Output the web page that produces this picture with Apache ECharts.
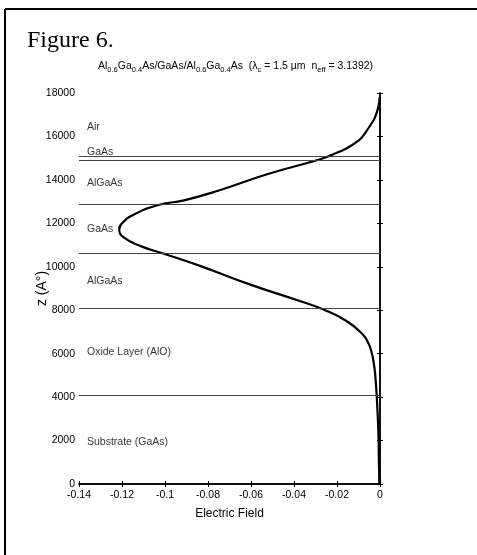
<!DOCTYPE html>
<html>
<head>
<meta charset="utf-8">
<script src="https://cdn.jsdelivr.net/npm/echarts@6/dist/echarts.min.js"></script>
<style>
  html, body { margin: 0; padding: 0; background: #fff; }
  #main { width: 477px; height: 555px; }
</style>
</head>
<body>
<div id="main"></div>
<script>
// 数据：电场分布 (E, z)
const fieldZ = [0, 1000, 2500, 4000, 5000, 5500, 6100, 6500, 6880, 7490, 8030, 8410, 9180, 10030, 10600, 10950, 11340, 11720, 12030, 12410, 12830, 13060, 13490, 14260, 14950, 15180, 15640, 16260, 17340, 17800];
const fieldE = [-0.0003, -0.0005, -0.0008, -0.0015, -0.0022, -0.0028, -0.0040, -0.0055, -0.0080, -0.0154, -0.0263, -0.037, -0.0603, -0.0834, -0.1005, -0.1113, -0.119, -0.1213, -0.1197, -0.1144, -0.1035, -0.0912, -0.0757, -0.0525, -0.0278, -0.0217, -0.0124, -0.0062, -0.0008, -0.0002];

// 层边界
const layerBounds = [4100, 8100, 10600, 12900, 14900, 15100];

// 层名称及位置
const layerNames = ['Air', 'GaAs', 'AlGaAs', 'GaAs', 'AlGaAs', 'Oxide Layer (AlO)', 'Substrate (GaAs)'];
const layerLabelZ = [16430, 15300, 13840, 11720, 9340, 6060, 1950];

const font = '"Liberation Sans Narrow", "Liberation Sans", Arial, sans-serif';

let myChart = echarts.init(document.getElementById('main'));

let option = {
  animation: false,
  backgroundColor: '#fff',
  title: [
    {
      text: 'Figure 6.',
      left: 27, top: 29, padding: 0,
      textStyle: { fontFamily: '"Liberation Serif", "Times New Roman", serif', fontSize: 24, fontWeight: 'normal', color: '#000' }
    },
    {
      text: '{n|Al}{s|0.6}{n|Ga}{s|0.4}{n|As/GaAs/Al}{s|0.6}{n|Ga}{s|0.4}{n|As  (λ}{s|c}{n| = 1.5 µm  n}{s|eff}{n| = 3.1392)}',
      left: 98, top: 58, padding: 0,
      textStyle: {
        rich: {
          n: { fontFamily: font, fontSize: 10.5, color: '#000', lineHeight: 14, fontWeight: 'normal' },
          s: { fontFamily: font, fontSize: 7.5, color: '#000', padding: [8, 0, 0, 0], fontWeight: 'normal' }
        }
      }
    }
  ],
  grid: { left: 79, right: 97, top: 93, bottom: 71 },
  xAxis: [
    {
      type: 'value', min: -0.14, max: 0, interval: 0.02,
      name: 'Electric Field', nameLocation: 'middle', nameGap: 24,
      nameTextStyle: { fontFamily: font, fontSize: 12, color: '#000' },
      axisLine: { lineStyle: { color: '#000', width: 1.5 } },
      axisTick: { inside: true, length: 3, lineStyle: { color: '#000' } },
      axisLabel: { fontFamily: font, fontSize: 10.5, color: '#000', margin: 6 },
      splitLine: { show: false }
    },
    {
      type: 'value', min: -0.14, max: 0, interval: 0.02, position: 'top',
      axisLine: { lineStyle: { color: '#000', width: 1.5 } },
      axisTick: { inside: true, length: 3, lineStyle: { color: '#000' } },
      axisLabel: { show: false },
      splitLine: { show: false }
    }
  ],
  yAxis: [
    {
      type: 'value', min: 0, max: 18000, interval: 2000,
      name: 'z (A°)', nameLocation: 'middle', nameGap: 30, nameRotate: 90,
      nameMoveOverlap: false,
      nameTextStyle: { fontFamily: font, fontSize: 14, color: '#000' },
      axisLine: { show: true, lineStyle: { color: '#000', width: 1.5 } },
      axisTick: { show: true, inside: true, length: 3, lineStyle: { color: '#000' } },
      axisLabel: { fontFamily: font, fontSize: 10.5, color: '#000', margin: 4, formatter: v => String(v) },
      splitLine: { show: false }
    },
    {
      type: 'value', min: 0, max: 18000, interval: 2000, position: 'right',
      axisLine: { show: true, lineStyle: { color: '#000', width: 1.5 } },
      axisTick: { show: true, inside: true, length: 3, lineStyle: { color: '#000' } },
      axisLabel: { show: false },
      splitLine: { show: false }
    }
  ],
  series: [
    {
      type: 'line',
      data: fieldE.map((e, i) => [e, fieldZ[i]]),
      smooth: 0.5,
      showSymbol: false,
      lineStyle: { color: '#000', width: 2.2 },
      z: 3,
      markLine: {
        silent: true,
        symbol: 'none',
        label: { show: false },
        lineStyle: { color: '#444', width: 1, type: 'solid' },
        data: layerBounds.map(v => ({ yAxis: v }))
      }
    },
    {
      type: 'scatter',
      symbolSize: 0,
      data: layerNames.map((n, i) => ({ name: n, value: [-0.14, layerLabelZ[i]] })),
      label: {
        show: true, position: 'right', distance: 8,
        formatter: p => p.name,
        fontFamily: font, fontSize: 10.5, color: '#000'
      },
      z: 4
    }
  ],
  graphic: [
    { type: 'line', shape: { x1: 5, y1: 9, x2: 477, y2: 9 }, style: { stroke: '#000', lineWidth: 2 } },
    { type: 'line', shape: { x1: 5, y1: 9, x2: 5, y2: 555 }, style: { stroke: '#000', lineWidth: 2 } }
  ]
};

myChart.setOption(option);
</script>
</body>
</html>
